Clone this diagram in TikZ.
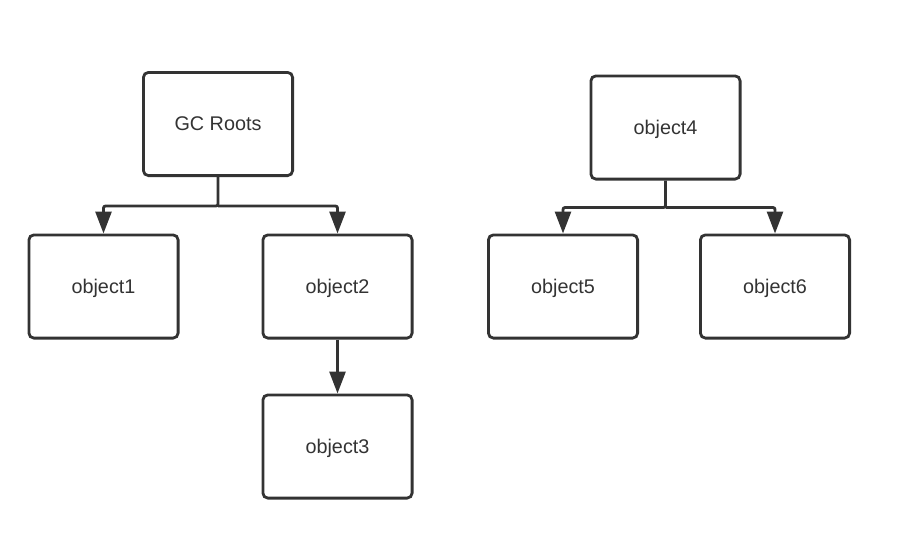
\documentclass[tikz,border=0pt]{standalone}
\usepackage{fontspec}
\setmainfont{Liberation Sans}
\usetikzlibrary{positioning,arrows.meta}
\definecolor{ink}{HTML}{333333}
\begin{document}
\begin{tikzpicture}[
  x=0.5pt, y=-0.5pt,
  font=\fontsize{9.9}{11}\selectfont,
  obj/.style={draw=ink, rounded corners=2.5pt, line width=1.4pt, text=ink,
              minimum width=74.6pt, minimum height=51.6pt, inner sep=0pt,
              text depth=0pt},
  ref/.style={-{Triangle[length=11pt, width=8pt]}, line width=1.4pt, draw=ink,
              rounded corners=1pt},
]
  \useasboundingbox (0,0) rectangle (897,552);

  \node[obj] (root) at (218,124) {GC Roots};
  \node[obj] (obj1) at (103.5,286.5) {object1};
  \node[obj, right=41pt of obj1] (obj2) {object2};
  \node[obj, below=27pt of obj2] (obj3) {object3};

  \node[obj] (obj4) at (665.5,127.5) {object4};
  \node[obj] (obj5) at (563,286.5) {object5};
  \node[obj, right=30pt of obj5] (obj6) {object6};

  \draw[ref] (root.south) -- ++(0,29) coordinate (fork1) -| (obj1.north);
  \draw[ref] (fork1) -| (obj2.north);
  \draw[ref] (obj2) -- (obj3);

  \draw[ref] (obj4.south) -- ++(0,27) coordinate (fork2) -| (obj5.north);
  \draw[ref] (fork2) -| (obj6.north);
\end{tikzpicture}
\end{document}
